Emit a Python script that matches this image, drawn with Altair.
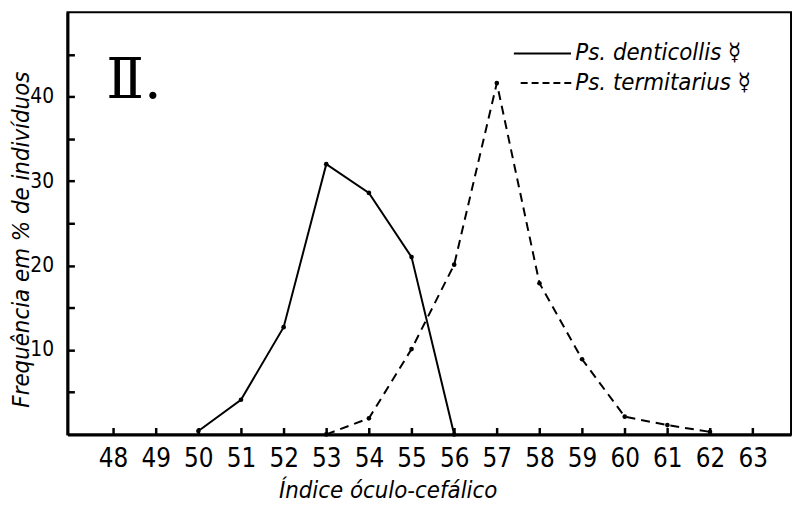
import altair as alt
import pandas as pd

# ---- data ----
den_x = [50, 51, 52, 53, 54, 55, 56]
den_y = [0.4, 4.1, 12.7, 32.0, 28.6, 21.0, 0.0]
ter_x = [53, 54, 55, 56, 57, 58, 59, 60, 61, 62]
ter_y = [0.0, 1.9, 10.1, 20.1, 41.6, 17.9, 8.9, 2.1, 1.1, 0.3]
x_tick_values = list(range(48, 64))
y_tick_values = [5, 10, 15, 20, 25, 30, 35, 40, 45]
series_names = ["Ps. denticollis \u263F", "Ps. termitarius \u263F"]
x_title = "Índice óculo-cefálico"
y_title = "Frequência em % de indivíduos"
panel_label = "\u2161."

X_DOMAIN = [46.93, 63.9]
Y_DOMAIN = [0, 50]
FONT = "DejaVu Sans Condensed"
INWARD_TICK = {"expr": "-7"}  # ticks pointing into the plot, as in the drawing

xs = alt.Scale(domain=X_DOMAIN, nice=False, zero=False)
ys = alt.Scale(domain=Y_DOMAIN, nice=False, zero=True)

x_axis = alt.Axis(
    values=x_tick_values, grid=False, title=x_title,
    domain=True, domainColor="black", domainWidth=3,
    ticks=True, tickSize=INWARD_TICK, tickWidth=2.5, tickColor="black",
    labelFont=FONT, labelFontSize=26, labelColor="black", labelPadding=18,
    titleFont=FONT, titleFontSize=24, titleFontStyle="italic", titleFontWeight="normal",
    titleColor="black", titleX=323, titleY=64, titleBaseline="alphabetic", titleAlign="center",
    titleAnchor="start", zindex=1,
)
y_axis = alt.Axis(
    values=y_tick_values, grid=False, title=y_title,
    domain=True, domainColor="black", domainWidth=3,
    ticks=True, tickSize=INWARD_TICK, tickWidth=2.5, tickColor="black",
    labelExpr="datum.value % 10 == 0 ? datum.label : ''",
    labelFont=FONT, labelFontSize=21, labelColor="black", labelPadding=21,
    titleFont=FONT, titleFontSize=24, titleFontStyle="italic", titleFontWeight="normal",
    titleColor="black", titleX=-46, titleY=229, titleBaseline="middle", titleAlign="center",
    titleAngle=-90, titleAnchor="start", zindex=1,
)

def X(field):
    return alt.X(field, type="quantitative", scale=xs, axis=x_axis)

def Y(field):
    return alt.Y(field, type="quantitative", scale=ys, axis=y_axis)

den = pd.DataFrame({"x": den_x, "y": den_y})
ter = pd.DataFrame({"x": ter_x, "y": ter_y})

den_line = alt.Chart(den).mark_line(color="black", strokeWidth=2).encode(x=X("x"), y=Y("y"))
den_pts = alt.Chart(den).mark_circle(color="black", size=22, opacity=1).encode(x=X("x"), y=Y("y"))
ter_line = alt.Chart(ter).mark_line(color="black", strokeWidth=2, strokeDash=[9, 6]).encode(x=X("x"), y=Y("y"))
ter_pts = alt.Chart(ter).mark_circle(color="black", size=22, opacity=1).encode(x=X("x"), y=Y("y"))

leg = pd.DataFrame({
    "name": series_names,
    "x0": [57.40, 57.56],
    "x1": [58.74, 58.79],
    "tx": [58.84, 58.84],
    "y": [45.1, 41.6],
})
leg_solid = alt.Chart(leg.iloc[[0]]).mark_rule(color="black", strokeWidth=2).encode(
    x=X("x0"), x2="x1", y=Y("y")
)
leg_dash = alt.Chart(leg.iloc[[1]]).mark_rule(color="black", strokeWidth=2, strokeDash=[7, 4]).encode(
    x=X("x0"), x2="x1", y=Y("y")
)
leg_text = alt.Chart(leg).mark_text(
    align="left", baseline="middle", font=FONT, fontSize=24, fontStyle="italic", color="black"
).encode(x=X("tx"), y=Y("y"), text="name:N")

label_df = pd.DataFrame({"x": [47.84], "y": [39.8], "t": [panel_label]})
roman = alt.Chart(label_df).mark_text(
    align="left", baseline="alphabetic", font="DejaVu Serif", fontSize=56, color="black"
).encode(x=X("x"), y=Y("y"), text="t:N")

chart = alt.layer(
    den_line, ter_line, den_pts, ter_pts, leg_solid, leg_dash, leg_text, roman
).properties(
    width=730, height=426,
    autosize=alt.AutoSizeParams(type="none"),
    padding={"left": 60, "top": 2, "right": 2, "bottom": 69},
    background="white",
).configure_view(
    stroke="black", strokeWidth=2
)

chart.save("out.html", embed_options={"renderer": "svg", "actions": False})
